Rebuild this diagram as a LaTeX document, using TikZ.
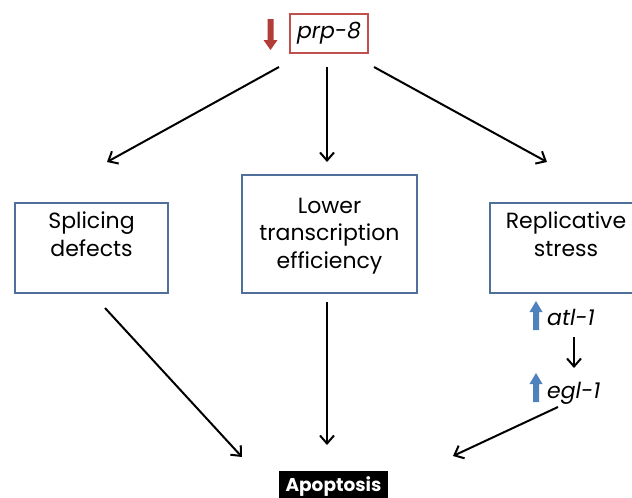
\documentclass[tikz,border=0pt]{standalone}
\usepackage{fontspec}
\setmainfont{Poppins}
\usetikzlibrary{arrows.meta}
\definecolor{boxblue}{RGB}{80,112,155}
\definecolor{prpred}{RGB}{192,80,77}
\definecolor{arrred}{RGB}{178,60,55}
\definecolor{upblue}{RGB}{79,129,189}
\begin{document}
\begin{tikzpicture}[x=1pt,y=-1pt,
  box/.style={draw=boxblue,line width=1.5pt,minimum width=153pt,minimum height=90pt,inner sep=0pt},
  lbl/.style={align=center,inner sep=0pt,font=\fontsize{22}{27.5}\selectfont},
  conn/.style={line width=2pt,-{Straight Barb[length=8pt,width=14pt,line width=2pt]}},
  gene/.style={anchor=base west,inner sep=0pt,font=\fontsize{22}{26}\selectfont\itshape}]
\useasboundingbox (0,0) rectangle (632,498);
\node[box] (splbox) at (91.5,248) {};
\node[box,minimum width=175pt,minimum height=118pt] (lowbox) at (329.5,234) {};
\node[box,minimum width=150pt] (repbox) at (565,248) {};
\node[lbl] (spl) at (91.5,234) {Splicing\\defects};
\node[lbl] (low) at (329.5,236) {Lower\\transcription\\efficiency};
\node[lbl] (rep) at (566,234) {Replicative\\stress};
\node[draw=prpred,line width=1.5pt,minimum width=78pt,minimum height=39pt,inner sep=0pt,font=\fontsize{22}{26}\selectfont\itshape] (prp) at (329,33.5) {prp-8};
\fill[arrred] (267.5,19) -- (273.5,19) -- (273.5,40) -- (277.5,40) -- (270.5,50) -- (263.5,40) -- (267.5,40) -- cycle;
\node[gene] (atl) at (547,325) {atl-1};
\node[gene] (egl) at (547,398) {egl-1};
\fill[upblue] (533,330) -- (533,312) -- (529.5,312) -- (536,301) -- (542.5,312) -- (539,312) -- (539,330) -- cycle;
\fill[upblue] (533,402) -- (533,384) -- (529.5,384) -- (536,373) -- (542.5,384) -- (539,384) -- (539,402) -- cycle;
\node[fill=black,text=white,inner sep=0pt,minimum width=109pt,minimum height=31pt,font=\bfseries\fontsize{18.5}{18.5}\selectfont] (apo) at (333.5,486.5) {Apoptosis};
\coordinate (p1) at (279,67);
\coordinate (p2) at (327,67);
\coordinate (p3) at (374,67);
\coordinate (s1) at (107,162);
\coordinate (s2) at (327,162);
\coordinate (s3) at (547,162);
\coordinate (b1) at (105,308);
\coordinate (b2) at (327,302);
\coordinate (e1) at (242,457);
\coordinate (e2) at (327,445);
\coordinate (g1) at (558,407);
\coordinate (g2) at (453,456);
\coordinate (m1) at (574,337);
\coordinate (m2) at (574,368);
\draw[conn] (p1) -- (s1);
\draw[conn] (p2) -- (s2);
\draw[conn] (p3) -- (s3);
\draw[conn] (b1) -- (e1);
\draw[conn] (b2) -- (e2);
\draw[conn] (g1) -- (g2);
\draw[conn] (m1) -- (m2);
\end{tikzpicture}
\end{document}
